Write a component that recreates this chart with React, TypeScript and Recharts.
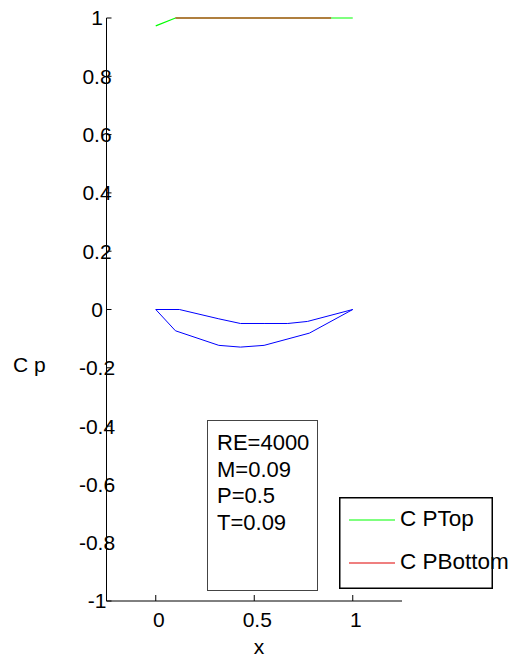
import { LineChart, Line, XAxis, YAxis, Legend } from "recharts";

const FONT = "'Liberation Sans', Arial, Helvetica, sans-serif";

// pressure coefficient, top and bottom surface
const cpTopX = [0, 0.1, 1];
const cpTopY = [0.973, 1, 1];
const cpBottomX = [0.1, 0.89];
const cpBottomY = [1, 1];

// airfoil outline
const upperX = [0, 0.12, 0.32, 0.43, 0.55, 0.67, 0.77, 1];
const upperY = [0, 0, -0.032, -0.048, -0.048, -0.048, -0.041, 0];
const lowerX = [0, 0.1, 0.32, 0.43, 0.55, 0.78, 1];
const lowerY = [0, -0.073, -0.123, -0.129, -0.123, -0.081, 0];

const xTicks = [0, 0.5, 1];
const yTicks = [-1, -0.8, -0.6, -0.4, -0.2, 0, 0.2, 0.4, 0.6, 0.8, 1];

const legendOrder = ["C PTop", "C PBottom"];
const infoLines = ["RE=4000", "M=0.09", "P=0.5", "T=0.09"];

const zip = (xs: number[], ys: number[]) => xs.map((x, i) => ({ x, y: ys[i] }));

const YTick = (props: any) => {
  const { x, y, payload } = props;
  return (
    <g>
      <line x1={x} y1={y} x2={x + 5} y2={y} stroke="#000" />
      <text x={x - 9.5} y={y} dy="0.355em" textAnchor="middle" fontSize={21} fontFamily={FONT} fill="#000">
        {payload.value}
      </text>
    </g>
  );
};

const XTick = (props: any) => {
  const { x, y, payload } = props;
  return (
    <g>
      <line x1={x} y1={y} x2={x} y2={y - 6} stroke="#000" />
      <text x={x + 3} y={y + 26} textAnchor="middle" fontSize={21} fontFamily={FONT} fill="#000">
        {payload.value}
      </text>
    </g>
  );
};

const LegendBox = (props: any) => {
  const items = (props.payload || [])
    .filter((p: any) => legendOrder.includes(p.value))
    .sort((a: any, b: any) => legendOrder.indexOf(a.value) - legendOrder.indexOf(b.value));
  return (
    <svg width={154} height={92} style={{ overflow: "visible", display: "block" }}>
      <rect x={0.75} y={0.75} width={152.5} height={90.5} fill="#fff" stroke="#000" strokeWidth={1.5} />
      {items.map((p: any, i: number) => (
        <g key={p.value}>
          <line x1={10} x2={56} y1={23 + i * 43} y2={23 + i * 43} stroke={p.color} strokeWidth={1.2} />
          <text x={61} y={28.5 + i * 43} fontSize={22.5} fontFamily={FONT} fill="#000">
            {p.value}
          </text>
        </g>
      ))}
    </svg>
  );
};

export default function App() {
  return (
    <div style={{ position: "absolute", left: 0, top: 0, width: 511, height: 663, background: "#fff" }}>
      <LineChart width={511} height={663} margin={{ top: 18, right: 109, bottom: 0, left: 0 }}>
        <XAxis
          type="number"
          dataKey="x"
          domain={[-0.25, 1.25]}
          ticks={xTicks}
          height={62}
          tickSize={0}
          tickMargin={0}
          tickLine={false}
          axisLine={{ stroke: "#000" }}
          tick={<XTick />}
          allowDuplicatedCategory={false}
        />
        <YAxis
          type="number"
          domain={[-1, 1]}
          ticks={yTicks}
          width={106.5}
          tickSize={0}
          tickMargin={0}
          tickLine={false}
          axisLine={{ stroke: "#000" }}
          tick={<YTick />}
          interval={0}
        />
        <Line data={zip(cpTopX, cpTopY)} dataKey="y" name="C PTop" stroke="#00ff00" strokeWidth={1.2} dot={false} isAnimationActive={false} />
        <Line data={zip(cpBottomX, cpBottomY)} dataKey="y" name="C PBottom" stroke="#e00000" strokeWidth={1.2} dot={false} isAnimationActive={false} />
        <Line data={zip(upperX, upperY)} dataKey="y" name="upper" stroke="#0000ff" strokeWidth={1} dot={false} legendType="none" isAnimationActive={false} />
        <Line data={zip(lowerX, lowerY)} dataKey="y" name="lower" stroke="#0000ff" strokeWidth={1} dot={false} legendType="none" isAnimationActive={false} />
        <Legend
          layout="horizontal"
          verticalAlign="middle"
          align="center"
          content={<LegendBox />}
          wrapperStyle={{ left: 339, top: 497, width: 154, height: 92 }}
        />
      </LineChart>
      <svg width={511} height={663} style={{ position: "absolute", left: 0, top: 0, pointerEvents: "none", overflow: "visible" }}>
        <text x={13} y={372} fontSize={21} fontFamily={FONT} fill="#000">C p</text>
        <text x={259} y={654} textAnchor="middle" fontSize={21} fontFamily={FONT} fill="#000">x</text>
        <rect x={207.5} y={420.5} width={110} height={170} fill="none" stroke="#444" strokeWidth={1} />
        {infoLines.map((t, i) => (
          <text key={t} x={217} y={450 + i * 26.7} fontSize={22} fontFamily={FONT} fill="#000">
            {t}
          </text>
        ))}
      </svg>
    </div>
  );
}
